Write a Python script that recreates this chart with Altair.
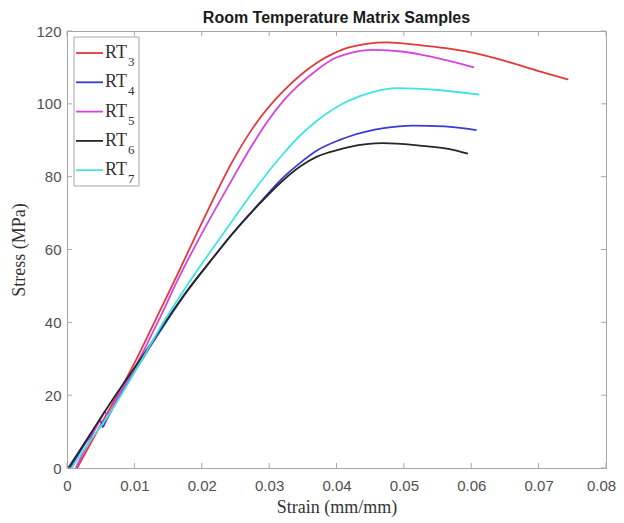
import altair as alt
import pandas as pd

# ---------------- data ----------------
names = ["RT3", "RT4", "RT5", "RT6", "RT7"]
subs = ["3", "4", "5", "6", "7"]
colors = ["#e2383c", "#3a3ad0", "#d444e0", "#262626", "#40e4e0"]

rt3_strain = [0.0015, 0.0055, 0.0102, 0.0132, 0.0161, 0.0203, 0.0245, 0.0272, 0.0291, 0.0321, 0.0371, 0.0395, 0.042, 0.0474, 0.052, 0.0598, 0.065, 0.07, 0.0744]
rt3_stress = [0, 13.5, 29.5, 40.9, 52, 68.4, 84.0, 92.3, 97.2, 103.5, 111.3, 113.8, 115.6, 116.9, 116.2, 114.2, 111.8, 109, 106.7]

rt4_strain = [0.0004, 0.0025, 0.0045, 0.0049, 0.0053, 0.0057, 0.0075, 0.0102, 0.0154, 0.0173, 0.0218, 0.0242, 0.0287, 0.0321, 0.0346, 0.0371, 0.0405, 0.042, 0.047, 0.0513, 0.056, 0.0608]
rt4_stress = [0, 6.2, 12.0, 13.3, 11.2, 12.6, 18.7, 27.0, 42.0, 47.2, 58, 63.6, 73.0, 79.8, 83.8, 87.2, 90.1, 91.1, 93.3, 94, 93.8, 92.8]

rt5_strain = [0.0013, 0.003, 0.0052, 0.0056, 0.0059, 0.0075, 0.0102, 0.0137, 0.0164, 0.0212, 0.023, 0.0245, 0.0272, 0.0297, 0.0322, 0.0371, 0.0395, 0.042, 0.0454, 0.05, 0.0543, 0.0604]
rt5_stress = [0, 6.3, 14.2, 15.5, 14.6, 19.5, 28, 40.9, 51.5, 68.4, 74.3, 79.2, 87.8, 95.0, 101.0, 109.3, 112.3, 113.9, 114.8, 114.3, 112.8, 110]

rt6_strain = [0.0002, 0.0025, 0.0048, 0.0075, 0.0102, 0.0154, 0.0173, 0.0218, 0.0242, 0.0287, 0.0316, 0.0346, 0.0371, 0.0405, 0.042, 0.0469, 0.052, 0.0566, 0.0595]
rt6_stress = [0, 6.6, 13.2, 20.8, 28.0, 42.3, 47.3, 58, 63.5, 72.8, 78.2, 82.8, 85.5, 87.5, 88.2, 89.2, 88.6, 87.6, 86.3]

rt7_strain = [0.0007, 0.003, 0.006, 0.0102, 0.0146, 0.0173, 0.0247, 0.0274, 0.0321, 0.0346, 0.0366, 0.0405, 0.042, 0.0455, 0.0489, 0.055, 0.0612]
rt7_stress = [0, 6.3, 14, 26.8, 40.9, 48.7, 68.3, 75.3, 86.3, 91.3, 94.6, 99.6, 101.0, 103.3, 104.3, 103.8, 102.5]

x_ticks = [0, 0.01, 0.02, 0.03, 0.04, 0.05, 0.06, 0.07, 0.08]
y_ticks = [0, 20, 40, 60, 80, 100, 120]

# ---------------- build table ----------------
series = [(rt3_strain, rt3_stress), (rt4_strain, rt4_stress), (rt5_strain, rt5_stress),
          (rt6_strain, rt6_stress), (rt7_strain, rt7_stress)]
rows = []
for n, (xs, ys) in zip(names, series):
    for i, (a, b) in enumerate(zip(xs, ys)):
        rows.append({"series": n, "strain": a, "stress": b, "order": i})
df = pd.DataFrame(rows)

W, H = 539, 437
GRAY = "#a6a6a6"

x_enc = alt.X("strain:Q", scale=alt.Scale(domain=[0, 0.08], nice=False, zero=False),
              axis=alt.Axis(values=x_ticks, title="Strain (mm/mm)",
                            labelExpr="datum.value == 0 ? '0' : format(datum.value, '.2f')",
                            labelOffset={"condition": {"test": "datum.value > 0.0795", "value": -5}, "value": 0},
                            ticks=False, domain=False, grid=False, labelPadding=10, labelFlush=False,
                            labelFont="Liberation Sans", labelFontSize=15, labelColor="#505050",
                            titleFont="Liberation Serif", titleFontSize=18, titleFontWeight="normal",
                            titleColor="#333333", titlePadding=5))
y_enc = alt.Y("stress:Q", scale=alt.Scale(domain=[0, 120], nice=False),
              axis=alt.Axis(values=y_ticks, title="Stress (MPa)", format="d",
                            ticks=False, domain=False, grid=False, labelPadding=6, labelFlush=False,
                            labelFont="Liberation Sans", labelFontSize=15, labelColor="#505050",
                            titleFont="Liberation Serif", titleFontSize=18, titleFontWeight="normal",
                            titleColor="#333333", titlePadding=7))

lines = alt.Chart(df).mark_line(strokeWidth=1.8, interpolate="monotone").encode(
    x=x_enc, y=y_enc,
    color=alt.Color("series:N", scale=alt.Scale(domain=names, range=colors), legend=None),
    order="order:Q",
)

xt = pd.DataFrame({"strain": x_ticks})
yt = pd.DataFrame({"stress": y_ticks})
tick_bottom = alt.Chart(xt).mark_rule(color=GRAY, strokeWidth=1).encode(x=x_enc, y=alt.value(H), y2=alt.value(H - 5))
tick_top = alt.Chart(xt).mark_rule(color=GRAY, strokeWidth=1).encode(x=x_enc, y=alt.value(0), y2=alt.value(5))
tick_left = alt.Chart(yt).mark_rule(color=GRAY, strokeWidth=1).encode(y=y_enc, x=alt.value(0), x2=alt.value(5))
tick_right = alt.Chart(yt).mark_rule(color=GRAY, strokeWidth=1).encode(y=y_enc, x=alt.value(W), x2=alt.value(W - 5))

one = pd.DataFrame({"a": [0]})
legend_box = alt.Chart(one).mark_rect(fill="white", stroke=GRAY, strokeWidth=1).encode(
    x=alt.value(7), x2=alt.value(72), y=alt.value(6), y2=alt.value(155))

legend_layers = [legend_box]
for i, (n, s, c) in enumerate(zip(names, subs, colors)):
    ey = 22 + i * 29.3
    legend_layers.append(alt.Chart(one).mark_rule(color=c, strokeWidth=1.8).encode(
        x=alt.value(9), x2=alt.value(36), y=alt.value(ey)))
    legend_layers.append(alt.Chart(one).mark_text(text="RT", align="left", baseline="middle",
                                                  font="Liberation Serif", fontSize=18, color="#333333").encode(
        x=alt.value(38), y=alt.value(ey)))
    legend_layers.append(alt.Chart(one).mark_text(text=s, align="left", baseline="middle",
                                                  font="Liberation Serif", fontSize=13, color="#333333").encode(
        x=alt.value(61), y=alt.value(ey + 9)))

chart = alt.layer(lines, tick_bottom, tick_top, tick_left, tick_right, *legend_layers).properties(
    width=W, height=H,
    title=alt.TitleParams("Room Temperature Matrix Samples", font="Liberation Sans", fontSize=16,
                          fontWeight="bold", color="#1a1a1a", anchor="middle", frame="group", offset=-2),
    autosize=alt.AutoSizeParams(type="none"),
    padding={"left": 59, "top": 23, "right": 10, "bottom": 52},
).configure_view(stroke=GRAY, strokeWidth=1)

chart.save("out.html", embed_options={"renderer": "svg", "actions": False})
